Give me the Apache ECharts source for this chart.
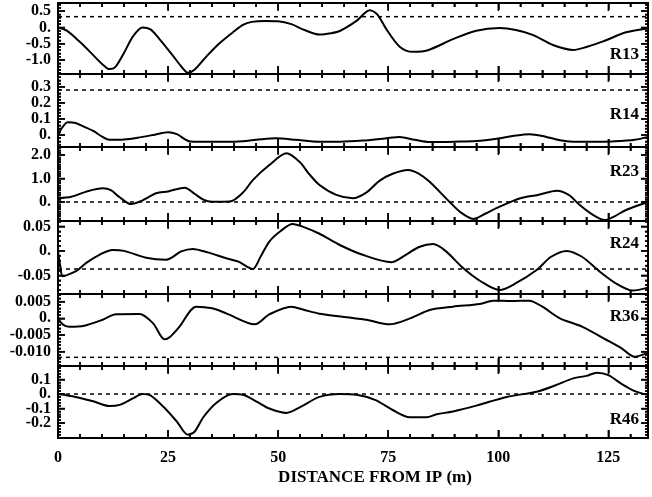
<!DOCTYPE html>
<html>
<head>
<meta charset="utf-8">
<script src="https://cdn.jsdelivr.net/npm/echarts@6/dist/echarts.min.js"></script>
<style>
  html, body { margin: 0; padding: 0; background: #fff; }
  #chart { width: 652px; height: 497px; }
</style>
</head>
<body>
<div id="chart"></div>
<script>
// x axis
const xMax = 134;
const xMajor = [0, 25, 50, 75, 100, 125];
const xMinor = [5, 10, 15, 20, 30, 35, 40, 45, 55, 60, 65, 70, 80, 85, 90, 95, 105, 110, 115, 120, 130];

// R13
const r13 = [[0,0],[2,-0.1],[5,-0.45],[8,-0.85],[10,-1.12],[11.7,-1.28],[13,-1.22],[15,-0.78],[17,-0.28],[19.2,0],[21,-0.06],[23,-0.35],[26,-0.85],[28,-1.2],[29.5,-1.39],[31,-1.3],[34,-0.85],[37,-0.45],[40,-0.12],[42,0.08],[44,0.17],[47,0.2],[50,0.19],[53,0.1],[56,-0.08],[59.4,-0.22],[62,-0.18],[64,-0.11],[67.8,0.2],[70.8,0.53],[72.5,0.4],[74.6,-0.06],[77.6,-0.59],[80.6,-0.75],[84,-0.7],[89.7,-0.36],[95,-0.1],[100.3,-0.02],[104,-0.08],[107.8,-0.23],[112.4,-0.54],[117,-0.69],[120,-0.6],[123.8,-0.43],[129,-0.15],[134,-0.03]];
const r13Ticks = [0.5, 0, -0.5, -1.0];
const r13Labels = ['0.5', '0.', '-0.5', '-1.0'];
const r13Minor = [0.7, 0.6, 0.4, 0.3, 0.2, 0.1, -0.1, -0.2, -0.3, -0.4, -0.6, -0.7, -0.8, -0.9, -1.1, -1.2, -1.3, -1.4];
const r13Range = [-1.43, 0.75];
const r13Ref = 0.33;

// R14
const r14 = [[0,-0.01],[0.8,0.04],[2.2,0.08],[4,0.075],[6,0.05],[8,0.025],[10,-0.01],[11.7,-0.03],[15,-0.028],[18.5,-0.015],[22,0.002],[25,0.017],[27,0.005],[30,-0.04],[35,-0.042],[41,-0.04],[45,-0.03],[49.6,-0.02],[54,-0.03],[59.4,-0.042],[64,-0.042],[69.2,-0.035],[74.6,-0.02],[77.6,-0.013],[81,-0.03],[84.4,-0.044],[90,-0.042],[95,-0.038],[100,-0.022],[104,-0.004],[107,0.004],[110,-0.006],[114,-0.033],[117,-0.042],[122,-0.043],[126,-0.04],[131,-0.03],[134,-0.012]];
const r14Ticks = [0.3, 0.2, 0.1, 0];
const r14Labels = ['0.3', '0.2', '0.1', '0.'];
const r14Minor = [0.36, 0.34, 0.32, 0.28, 0.26, 0.24, 0.22, 0.18, 0.16, 0.14, 0.12, 0.08, 0.06, 0.04, 0.02, -0.02, -0.04, -0.06];
const r14Range = [-0.075, 0.38];
const r14Ref = 0.28;

// R23
const r23 = [[0,0.16],[3,0.22],[6.4,0.44],[10.2,0.58],[12,0.5],[14,0.2],[16.6,-0.09],[19,0.05],[22.3,0.37],[25,0.45],[28.8,0.61],[31,0.35],[33,0.1],[35,0.01],[39,0.02],[42,0.4],[44.3,0.94],[48,1.57],[51.9,2.07],[54.9,1.7],[57,1.2],[59.4,0.72],[63.2,0.3],[67,0.16],[70,0.4],[73,0.9],[76,1.2],[79.5,1.36],[82,1.2],[84.4,0.86],[88.9,0.01],[91.5,-0.45],[94.3,-0.72],[97,-0.5],[100.3,-0.2],[105,0.16],[109,0.3],[113.3,0.48],[116,0.3],[118.5,-0.13],[121.5,-0.55],[124.2,-0.77],[126.5,-0.6],[129,-0.34],[134,0.0]];
const r23Ticks = [2.0, 1.0, 0];
const r23Labels = ['2.0', '1.0', '0.'];
const r23Minor = [2.3, 2.2, 2.1, 1.9, 1.8, 1.7, 1.6, 1.5, 1.4, 1.3, 1.2, 1.1, 0.9, 0.8, 0.7, 0.6, 0.5, 0.4, 0.3, 0.2, 0.1, -0.1, -0.2, -0.3, -0.4, -0.5, -0.6, -0.7, -0.8];
const r23Range = [-0.81, 2.34];
const r23Ref = 0;

// R24
const r24 = [[0,0.0],[0.5,-0.03],[1.1,-0.052],[3,-0.046],[4.5,-0.039],[6.5,-0.024],[9.4,-0.008],[12.4,0.002],[15,0.0],[20,-0.014],[24.6,-0.018],[28,-0.001],[30.6,0.004],[34,-0.003],[38.2,-0.015],[41,-0.022],[44.2,-0.037],[46,-0.012],[48,0.019],[50.5,0.04],[53.3,0.055],[56,0.048],[59.4,0.035],[64,0.012],[69.2,-0.008],[75.7,-0.023],[79,-0.008],[82,0.008],[85.2,0.014],[88,0.0],[92,-0.035],[96,-0.062],[100.3,-0.08],[104,-0.066],[108.7,-0.039],[112,-0.012],[115.5,0.0],[119,-0.012],[123,-0.042],[127,-0.068],[130.5,-0.081],[134,-0.075]];
const r24Ticks = [0.05, 0, -0.05];
const r24Labels = ['0.05', '0.', '-0.05'];
const r24Minor = [0.06, 0.04, 0.03, 0.02, 0.01, -0.01, -0.02, -0.03, -0.04, -0.06, -0.07, -0.08];
const r24Range = [-0.088, 0.061];
const r24Ref = -0.037;

// R36
const r36 = [[0,0.0005],[0.5,-0.001],[1.5,-0.0022],[2.6,-0.0025],[6,-0.0022],[10,-0.0005],[13.2,0.0012],[18.5,0.0013],[21.6,-0.0015],[24.2,-0.0063],[25.5,-0.0055],[27.6,-0.0025],[31.4,0.0035],[35,0.003],[38.2,0.0015],[44.7,-0.0018],[48,0.0012],[53,0.0035],[56,0.0025],[59.4,0.0014],[65.5,0.0003],[70,-0.0004],[75.3,-0.0018],[80,0.0],[84.4,0.0025],[89.7,0.0035],[95.8,0.0043],[98.8,0.0053],[103,0.0052],[107,0.0053],[110,0.0035],[114,0.0],[119,-0.0025],[124.6,-0.0065],[128,-0.009],[131,-0.0115],[134,-0.0103]];
const r36Ticks = [0.005, 0, -0.005, -0.010];
const r36Labels = ['0.005', '0.', '-0.005', '-0.010'];
const r36Minor = [0.007, 0.006, 0.004, 0.003, 0.002, 0.001, -0.001, -0.002, -0.003, -0.004, -0.006, -0.007, -0.008, -0.009, -0.011, -0.012, -0.013, -0.014];
const r36Range = [-0.0143, 0.0073];
const r36Ref = -0.0117;

// R46
const r46 = [[0,0.0],[4,-0.02],[8,-0.05],[11.7,-0.083],[14,-0.075],[17,-0.03],[19.2,0.0],[21,-0.01],[24,-0.09],[27,-0.19],[29.5,-0.28],[31,-0.26],[33,-0.16],[36,-0.06],[39.7,0.0],[42,-0.005],[45,-0.05],[48,-0.1],[51.9,-0.13],[55,-0.09],[59.4,-0.02],[64,0.0],[67.8,-0.005],[72,-0.04],[76,-0.11],[79.9,-0.16],[83.7,-0.16],[86,-0.14],[89.7,-0.12],[95,-0.08],[101.9,-0.02],[108.7,0.016],[113,0.06],[117,0.108],[120,0.125],[122.4,0.147],[125,0.13],[128,0.07],[131,0.02],[134,-0.007]];
const r46Ticks = [0.1, 0, -0.1, -0.2];
const r46Labels = ['0.1', '0.', '-0.1', '-0.2'];
const r46Minor = [0.18, 0.16, 0.14, 0.12, 0.08, 0.06, 0.04, 0.02, -0.02, -0.04, -0.06, -0.08, -0.12, -0.14, -0.16, -0.18, -0.22, -0.24, -0.26, -0.28];
const r46Range = [-0.303, 0.193];
const r46Ref = 0;

const names = ['R13', 'R14', 'R23', 'R24', 'R36', 'R46'];
const panels = [
    {data: r13, ticks: r13Ticks, labels: r13Labels, minor: r13Minor, range: r13Range, ref: r13Ref},
    {data: r14, ticks: r14Ticks, labels: r14Labels, minor: r14Minor, range: r14Range, ref: r14Ref},
    {data: r23, ticks: r23Ticks, labels: r23Labels, minor: r23Minor, range: r23Range, ref: r23Ref},
    {data: r24, ticks: r24Ticks, labels: r24Labels, minor: r24Minor, range: r24Range, ref: r24Ref},
    {data: r36, ticks: r36Ticks, labels: r36Labels, minor: r36Minor, range: r36Range, ref: r36Ref},
    {data: r46, ticks: r46Ticks, labels: r46Labels, minor: r46Minor, range: r46Range, ref: r46Ref}
];

// layout
const tops = [3, 74, 147, 221, 294, 366];
const heights = [71, 73, 74, 73, 72, 72];
const nameY = [55, 115, 172, 244, 317, 420];
const font = 'Liberation Serif';
const labelFont = {fontFamily: font, fontWeight: 'bold', fontSize: 16, color: '#000'};

let grids = [], xAxes = [], yAxes = [], series = [], graphics = [];

// axis that only draws the frame line and ticks
function tickAxis(gi, pos, values, len, range) {
    return {
        type: 'value',
        gridIndex: gi,
        position: pos,
        min: range[0],
        max: range[1],
        axisLine: {show: true, onZero: false, lineStyle: {color: '#000', width: 2}},
        axisTick: {show: true, inside: true, length: len, customValues: values, lineStyle: {color: '#000', width: 1.5}},
        axisLabel: {show: false},
        splitLine: {show: false}
    };
}

// axis that only draws labels, kept in its own grid
function labelAxis(gi, pos, values, range, formatter, margin) {
    return {
        type: 'value',
        gridIndex: gi,
        position: pos,
        min: range[0],
        max: range[1],
        axisLine: {show: false},
        axisTick: {show: false},
        splitLine: {show: false},
        axisLabel: Object.assign({show: true, customValues: values, margin: margin, formatter: formatter}, labelFont)
    };
}

function hiddenAxis(gi, range) {
    return {type: 'value', gridIndex: gi, min: range[0], max: range[1], show: false};
}

// inward tick marks on both sides, placed through the panel's own scales
function tickSeries(xIdx, yIdx, values, dim, len, range) {
    return {
        type: 'custom',
        coordinateSystem: 'cartesian2d',
        xAxisIndex: xIdx,
        yAxisIndex: yIdx,
        clip: false,
        silent: true,
        data: values.map(function(v) { return dim === 'x' ? [v, range[0]] : [0, v]; }),
        renderItem: function(params, api) {
            let segs;
            if (dim === 'x') {
                let v = api.value(0);
                let b = api.coord([v, range[0]]), t = api.coord([v, range[1]]);
                segs = [[b[0], b[1], b[0], b[1] - len], [t[0], t[1], t[0], t[1] + len]];
            } else {
                let v = api.value(1);
                let l = api.coord([0, v]), r = api.coord([xMax, v]);
                segs = [[l[0], l[1], l[0] + len, l[1]], [r[0], r[1], r[0] - len, r[1]]];
            }
            return {
                type: 'group',
                children: segs.map(function(s) {
                    return {type: 'line', shape: {x1: s[0], y1: s[1], x2: s[2], y2: s[3]}, style: {stroke: '#000', lineWidth: 1.5}};
                })
            };
        }
    };
}

// data panels with frame and ticks
panels.forEach(function(p, i) {
    grids.push({left: 58, right: 4, top: tops[i], height: heights[i], show: false});
    let xr = [0, xMax];
    let xIdx = xAxes.length, yIdx = yAxes.length;
    xAxes.push(tickAxis(i, 'bottom', xMajor, 8, xr));
    xAxes.push(tickAxis(i, 'bottom', xMinor, 4, xr));
    xAxes.push(tickAxis(i, 'top', xMajor, 7, xr));
    xAxes.push(tickAxis(i, 'top', xMinor, 4, xr));
    yAxes.push(tickAxis(i, 'left', p.ticks, 7, p.range));
    yAxes.push(tickAxis(i, 'left', p.minor, 3, p.range));
    yAxes.push(tickAxis(i, 'right', p.ticks, 7, p.range));
    yAxes.push(tickAxis(i, 'right', p.minor, 3, p.range));

    // dashed reference level
    series.push({
        type: 'line',
        xAxisIndex: xIdx,
        yAxisIndex: yIdx,
        data: [[0, p.ref], [xMax, p.ref]],
        showSymbol: false,
        silent: true,
        lineStyle: {color: '#000', type: [4, 4], width: 1.5}
    });

    series.push({
        type: 'line',
        xAxisIndex: xIdx,
        yAxisIndex: yIdx,
        data: p.data,
        smooth: 0.3,
        showSymbol: false,
        lineStyle: {color: '#000', width: 2}
    });

    series.push(tickSeries(xIdx, yIdx, xMajor, 'x', 8, p.range));
    series.push(tickSeries(xIdx, yIdx, xMinor, 'x', 4, p.range));
    series.push(tickSeries(xIdx, yIdx, p.ticks, 'y', 7, p.range));
    series.push(tickSeries(xIdx, yIdx, p.minor, 'y', 3, p.range));

    graphics.push({
        type: 'text', x: 639, y: nameY[i],
        style: {
            text: names[i], fill: '#000', textAlign: 'right', textVerticalAlign: 'middle',
            font: 'bold 17px "' + font + '"'
        }
    });
});

// y tick labels: every other label in its own overlay grid so none get hidden
panels.forEach(function(p, i) {
    let fmt = function(v) {
        let k = p.ticks.indexOf(v);
        return k >= 0 ? p.labels[k] : '';
    };
    [0, 1].forEach(function(part) {
        let vals = p.ticks.filter(function(t, k) { return k % 2 === part; });
        let gi = grids.length;
        grids.push({left: 58, right: 4, top: tops[i], height: heights[i], show: false});
        xAxes.push(hiddenAxis(gi, [0, xMax]));
        yAxes.push(labelAxis(gi, 'left', vals, p.range, fmt, 7));
    });
});

// x tick labels under the last panel
let gx = grids.length;
grids.push({left: 58, right: 4, top: tops[5], height: heights[5], show: false});
xAxes.push(labelAxis(gx, 'bottom', xMajor, [0, xMax], function(v) { return String(v); }, 12));
yAxes.push(hiddenAxis(gx, [0, 1]));

graphics.push({
    type: 'text', x: 375, y: 478,
    style: {
        text: 'DISTANCE FROM IP (m)', fill: '#000', textAlign: 'center', textVerticalAlign: 'middle',
        font: 'bold 17px "' + font + '"'
    }
});

const chart = echarts.init(document.getElementById('chart'));
chart.setOption({
    animation: false,
    grid: grids,
    xAxis: xAxes,
    yAxis: yAxes,
    series: series,
    graphic: graphics
});
</script>
</body>
</html>
